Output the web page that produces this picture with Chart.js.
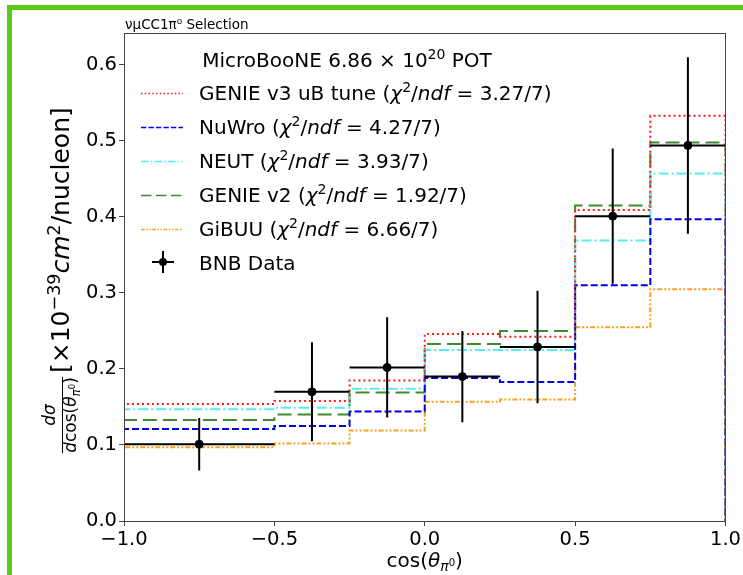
<!DOCTYPE html>
<html>
<head>
<meta charset="utf-8">
<script src="https://cdn.jsdelivr.net/npm/chart.js@4.4.1/dist/chart.umd.min.js"></script>
<style>
  html, body { margin: 0; padding: 0; background: #fff; overflow: hidden; }
  #wrap { position: relative; width: 743px; height: 575px; }
  #frame {
    position: absolute; left: 7px; top: 5px; width: 800px; height: 700px;
    border: 5px solid #57cc14; pointer-events: none;
  }
</style>
</head>
<body>
<div id="wrap">
  <canvas id="xsec" width="743" height="575"></canvas>
  <div id="frame"></div>
</div>
<script>
// bin edges in cos(theta_pi0)
var edges = [-1.0, -0.5, -0.25, 0.0, 0.25, 0.5, 0.75, 1.0];

// measured cross section and uncertainty
var dataVals = [0.101, 0.170, 0.202, 0.190, 0.229, 0.401, 0.494];
var dataErrs = [0.0345, 0.065, 0.066, 0.060, 0.074, 0.089, 0.116];

// generator predictions
var genieV3 = [0.154, 0.158, 0.185, 0.246, 0.2425, 0.409, 0.533];
var nuwro   = [0.121, 0.125, 0.144, 0.188, 0.183, 0.310, 0.397];
var neut    = [0.147, 0.149, 0.174, 0.225, 0.225, 0.369, 0.457];
var genieV2 = [0.133, 0.140, 0.169, 0.233, 0.250, 0.415, 0.498];
var gibuu   = [0.097, 0.102, 0.119, 0.157, 0.160, 0.255, 0.305];

var modelNames = ['GENIE v3 uB tune', 'NuWro', 'NEUT', 'GENIE v2', 'GiBUU'];
var chi2Text   = ['3.27/7', '4.27/7', '3.93/7', '1.92/7', '6.66/7'];

var xTicks = [-1.0, -0.5, 0.0, 0.5, 1.0];
var yTicks = [0.0, 0.1, 0.2, 0.3, 0.4, 0.5, 0.6];

var FONT = '"DejaVu Sans", "Liberation Sans", sans-serif';

var styles = [
  { color: '#ff1a1a', dash: [2, 3] },
  { color: '#0000ee', dash: [7, 3] },
  { color: '#55eeee', dash: [10, 3, 2, 3] },
  { color: '#3d8b2f', dash: [14, 6] },
  { color: '#f2a321', dash: [5, 2, 2, 2, 2, 2] }
];

// histogram outline: up from zero at the left edge, down to zero at the right edge
function histPoints(vals) {
  var pts = [{ x: edges[0], y: 0 }];
  for (var i = 0; i < vals.length; i++) pts.push({ x: edges[i], y: vals[i] });
  pts.push({ x: edges[edges.length - 1], y: vals[vals.length - 1] });
  pts.push({ x: edges[edges.length - 1], y: 0 });
  return pts;
}

var centers = [];
for (var i = 0; i < dataVals.length; i++) centers.push((edges[i] + edges[i + 1]) / 2);

// draw a line of text built from runs (italic, super/subscripts)
function drawRich(ctx, runs, x, y, size, align) {
  var parts = runs.map(function (r) {
    var s = size * (r.sc || 1);
    var font = (r.it ? 'italic ' : '') + s + 'px ' + FONT;
    ctx.font = font;
    return { t: r.t, font: font, w: ctx.measureText(r.t).width, dy: (r.dy || 0) * size };
  });
  var total = parts.reduce(function (a, p) { return a + p.w; }, 0);
  var cx = align === 'center' ? x - total / 2 : x;
  ctx.textAlign = 'left';
  ctx.textBaseline = 'alphabetic';
  parts.forEach(function (p) {
    ctx.font = p.font;
    ctx.fillText(p.t, cx, y + p.dy);
    cx += p.w;
  });
  return total;
}

function chiRuns(name, val) {
  return [
    { t: name + ' (' },
    { t: 'χ', it: 1 },
    { t: '2', sc: 0.7, dy: -0.38 },
    { t: '/' },
    { t: 'ndf', it: 1 },
    { t: ' = ' + val + ')' }
  ];
}

var decorations = {
  id: 'decorations',
  afterDatasetsDraw: function (chart) {
    var ctx = chart.ctx, xs = chart.scales.x, ys = chart.scales.y;
    ctx.save();
    ctx.strokeStyle = '#000';
    ctx.lineWidth = 2;
    ctx.setLineDash([]);
    for (var i = 0; i < dataVals.length; i++) {
      var yv = ys.getPixelForValue(dataVals[i]);
      var xc = xs.getPixelForValue(centers[i]);
      ctx.beginPath();
      ctx.moveTo(xs.getPixelForValue(edges[i]), yv);
      ctx.lineTo(xs.getPixelForValue(edges[i + 1]), yv);
      ctx.moveTo(xc, ys.getPixelForValue(dataVals[i] - dataErrs[i]));
      ctx.lineTo(xc, ys.getPixelForValue(dataVals[i] + dataErrs[i]));
      ctx.stroke();
    }
    ctx.restore();
  },
  afterDraw: function (chart) {
    var ctx = chart.ctx, a = chart.chartArea;
    ctx.save();
    // box around the axes
    ctx.strokeStyle = '#444';
    ctx.lineWidth = 1;
    ctx.strokeRect(Math.round(a.left) + 0.5, Math.round(a.top) + 0.5,
      Math.round(a.right - a.left), Math.round(a.bottom - a.top));

    ctx.fillStyle = '#000';
    // small heading
    ctx.font = '13.5px ' + FONT;
    ctx.textAlign = 'left';
    ctx.textBaseline = 'alphabetic';
    ctx.fillText('νμCC1π⁰ Selection', 125, 29);

    // legend
    drawRich(ctx, [{ t: 'MicroBooNE 6.86 × 10' }, { t: '20', sc: 0.7, dy: -0.38 }, { t: ' POT' }],
      347, 67, 20, 'center');
    var rowY = [93, 127, 161, 195, 229];
    for (var k = 0; k < modelNames.length; k++) {
      ctx.strokeStyle = styles[k].color;
      ctx.lineWidth = 1.5;
      ctx.setLineDash(styles[k].dash.map(function (d) { return d * 0.75; }));
      ctx.beginPath();
      ctx.moveTo(141, rowY[k] + 0.5);
      ctx.lineTo(183, rowY[k] + 0.5);
      ctx.stroke();
      ctx.fillStyle = '#000';
      drawRich(ctx, chiRuns(modelNames[k], chi2Text[k]), 199, rowY[k] + 7, 20, 'left');
    }
    ctx.setLineDash([]);
    ctx.strokeStyle = '#000';
    ctx.lineWidth = 2;
    ctx.beginPath();
    ctx.moveTo(152, 262); ctx.lineTo(174, 262);
    ctx.moveTo(163, 251); ctx.lineTo(163, 273);
    ctx.stroke();
    ctx.beginPath();
    ctx.arc(163, 262, 4, 0, Math.PI * 2);
    ctx.fill();
    drawRich(ctx, [{ t: 'BNB Data' }], 199, 270, 20, 'left');

    // x axis title
    drawRich(ctx, [{ t: 'cos(' }, { t: 'θ', it: 1 }, { t: 'π', it: 1, sc: 0.7, dy: 0.22 },
      { t: '0', sc: 0.5, dy: -0.05 }, { t: ')' }], (a.left + a.right) / 2, 567, 20, 'center');

    // y axis title (rotated)
    ctx.translate(60, (a.top + a.bottom) / 2);
    ctx.rotate(-Math.PI / 2);
    drawRich(ctx, [{ t: 'd', it: 1 }, { t: 'σ', it: 1 }], -138, -5, 17, 'center');
    ctx.lineWidth = 1;
    ctx.beginPath();
    ctx.moveTo(-176, 2.5); ctx.lineTo(-100, 2.5);
    ctx.stroke();
    drawRich(ctx, [{ t: 'd', it: 1 }, { t: 'cos(' }, { t: 'θ', it: 1 },
      { t: 'π', it: 1, sc: 0.7, dy: 0.22 }, { t: '0', sc: 0.5, dy: -0.05 }, { t: ')' }],
      -138, 16, 17, 'center');
    drawRich(ctx, [{ t: '[×10' }, { t: '−39', sc: 0.7, dy: -0.38 }, { t: 'cm', it: 1 },
      { t: '2', sc: 0.7, dy: -0.38 }, { t: '/nucleon]' }], -96, 9, 25, 'left');
    ctx.restore();
  }
};

var series = [genieV3, nuwro, neut, genieV2, gibuu];
var datasets = [{
  type: 'scatter',
  label: 'BNB Data',
  data: centers.map(function (c, i) { return { x: c, y: dataVals[i] }; }),
  pointRadius: 4,
  pointBackgroundColor: '#000',
  pointBorderColor: '#000',
  showLine: false
}];
series.forEach(function (vals, k) {
  datasets.push({
    type: 'line',
    label: modelNames[k],
    data: histPoints(vals),
    stepped: 'before',
    borderColor: styles[k].color,
    borderDash: styles[k].dash,
    borderWidth: 2,
    pointRadius: 0,
    fill: false
  });
});

function fmt(v) { return v.toFixed(1).replace('-', '−'); }

new Chart(document.getElementById('xsec'), {
  data: { datasets: datasets },
  plugins: [decorations],
  options: {
    responsive: false,
    animation: false,
    devicePixelRatio: 1,
    layout: { padding: { top: 33, right: 16, left: 0, bottom: 0 } },
    plugins: { legend: { display: false }, tooltip: { enabled: false } },
    scales: {
      x: {
        type: 'linear',
        min: xTicks[0],
        max: xTicks[xTicks.length - 1],
        afterBuildTicks: function (s) { s.ticks = xTicks.map(function (v) { return { value: v }; }); },
        afterFit: function (s) { s.height = 54; },
        ticks: { callback: fmt, color: '#000', padding: 2, maxRotation: 0,
          font: { family: FONT, size: 19.5 } },
        grid: { drawOnChartArea: false, tickLength: 5, color: '#444' },
        border: { color: '#444' }
      },
      y: {
        type: 'linear',
        min: 0,
        max: 0.642,
        afterBuildTicks: function (s) { s.ticks = yTicks.map(function (v) { return { value: v }; }); },
        afterFit: function (s) { s.width = 124; },
        ticks: { callback: fmt, color: '#000', padding: 2,
          font: { family: FONT, size: 19.5 } },
        grid: { drawOnChartArea: false, tickLength: 5, color: '#444' },
        border: { color: '#444' }
      }
    }
  }
});
</script>
</body>
</html>
